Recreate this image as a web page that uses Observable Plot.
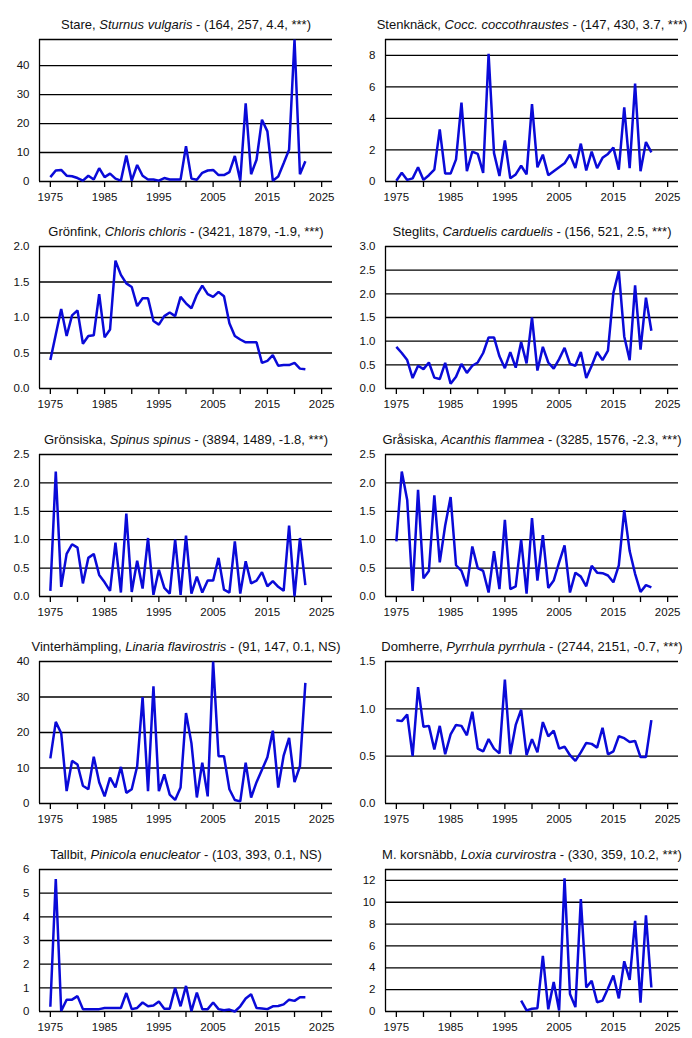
<!DOCTYPE html>
<html><head><meta charset="utf-8">
<script src="https://cdn.jsdelivr.net/npm/d3@7"></script>
<script src="https://cdn.jsdelivr.net/npm/@observablehq/plot@0.6"></script>
<style>
body{margin:0;background:#fff;}
#wrap{position:relative;width:692px;height:1038px;background:#fff;overflow:hidden;}
.panel{position:absolute;width:346px;}
.title{position:absolute;left:186px;top:17px;transform:translateX(-50%);text-align:center;font-family:"Liberation Sans",Arial,sans-serif;font-size:13px;color:#111;white-space:nowrap;line-height:16px;}
.panel svg{display:block;}
</style></head><body><div id="wrap"></div>
<script>
const years = [1975,1976,1977,1978,1979,1980,1981,1982,1983,1984,1985,1986,1987,1988,1989,1990,1991,1992,1993,1994,1995,1996,1997,1998,1999,2000,2001,2002,2003,2004,2005,2006,2007,2008,2009,2010,2011,2012,2013,2014,2015,2016,2017,2018,2019,2020,2021,2022];

const stare = [1.5,3.8,4,2,1.8,1.2,0.3,2,0.7,4.6, 1.5,2.7,1,0.3,9,0.3,5.7,2,0.7,0.7, 0.3,1.2,0.7,0.7,0.7,12.2,1,0.6,3,3.8, 4,2.2,2.2,3.2,8.8,0.3,27,2.5,7.5,21.3, 17.3,0.3,1.7,6.3,11,49,2.5,7];
const stenknack = [0.05,0.55,0.1,0.2,0.9,0.1,0.4,0.75,3.3,0.5, 0.5,1.4,5.0,0.65,1.9,1.75,0.55,8.1,1.8,0.35, 2.6,0.2,0.45,1.0,0.45,4.9,0.9,1.7,0.4,0.65, 0.9,1.15,1.7,0.85,2.4,0.7,1.9,0.85,1.5,1.75, 2.15,0.75,4.7,0.85,6.2,0.65,2.5,1.85];
const gronfink = [0.4,0.76,1.12,0.74,1.03,1.1,0.63,0.74,0.75,1.33, 0.72,0.83,1.8,1.6,1.48,1.43,1.16,1.27,1.27,0.95, 0.9,1.02,1.07,1.02,1.29,1.2,1.13,1.32,1.45,1.33, 1.29,1.36,1.3,0.92,0.74,0.69,0.65,0.65,0.65,0.36, 0.39,0.47,0.32,0.33,0.33,0.36,0.28,0.27];
const steglits = [0.88,0.75,0.6,0.22,0.48,0.41,0.55,0.23,0.2,0.54, 0.1,0.25,0.52,0.33,0.48,0.55,0.75,1.08,1.08,0.68, 0.43,0.77,0.44,0.98,0.53,1.5,0.38,0.88,0.55,0.42, 0.62,0.86,0.52,0.48,0.77,0.22,0.48,0.77,0.6,0.8, 2.02,2.48,1.1,0.6,2.18,0.82,1.92,1.22];
const gronsiska = [0.1,2.2,0.17,0.75,0.92,0.86,0.23,0.68,0.75,0.38, 0.25,0.1,0.95,0.07,1.46,0.08,0.63,0.14,1.03,0.03, 0.47,0.15,0.05,1.0,0.03,1.07,0.05,0.35,0.07,0.28, 0.28,0.68,0.12,0.07,0.97,0.05,0.62,0.23,0.28,0.43, 0.18,0.27,0.17,0.1,1.25,0.0,1.03,0.2];
const grasiska = [0.97,2.2,1.7,0.1,1.88,0.32,0.45,1.78,0.6,1.25, 1.75,0.55,0.45,0.18,0.88,0.5,0.45,0.07,0.8,0.13, 1.35,0.13,0.18,1.0,0.05,1.38,0.28,1.08,0.15,0.28, 0.6,0.9,0.07,0.42,0.35,0.18,0.54,0.42,0.41,0.37, 0.25,0.55,1.52,0.8,0.4,0.08,0.2,0.16];
const vinterhampling = [12.7,23,19.8,3.5,12,11,5,4,13.2,6, 2,7.3,4.5,10.3,3,4,10.5,30,3.5,33, 3.5,8.2,2.5,1,4.5,25.5,17,1.7,11.5,2, 40,13.3,13.3,4,1,0.6,11.5,1.7,6,9.5, 13,20.5,4.5,13.5,18.5,6,10.5,34];
const domherre = [0.88,0.87,0.94,0.5,1.23,0.81,0.82,0.57,0.82,0.52, 0.73,0.83,0.82,0.72,0.97,0.58,0.55,0.68,0.58,0.53, 1.31,0.52,0.83,0.99,0.51,0.68,0.54,0.86,0.71,0.77, 0.58,0.6,0.51,0.45,0.54,0.64,0.63,0.59,0.8,0.52, 0.55,0.71,0.69,0.65,0.66,0.49,0.49,0.88];
const tallbit = [0.2,5.6,0.02,0.5,0.5,0.65,0.1,0.1,0.1,0.1, 0.15,0.15,0.15,0.15,0.78,0.1,0.15,0.38,0.22,0.25, 0.42,0.12,0.12,1.0,0.22,1.08,0.02,0.8,0.1,0.1, 0.38,0.1,0.05,0.08,0.0,0.22,0.55,0.73,0.15,0.13, 0.1,0.22,0.23,0.3,0.5,0.45,0.6,0.6];
const korsnabb = [null,null,null,null,null,null,null,null,null,null, null,null,null,null,null,null,null,null,null,null, null,null,null,1.0,0.1,0.25,0.3,5.1,0.2,2.7, 0.1,12.2,1.6,0.4,10.3,2.2,2.8,0.85,1.0,2.1, 3.3,1.2,4.6,2.9,8.3,0.8,8.8,2.2];

const commonNames = ["Stare","Stenknäck","Grönfink","Steglits","Grönsiska","Gråsiska","Vinterhämpling","Domherre","Tallbit","M. korsnäbb"];
const latinNames = ["Sturnus vulgaris","Cocc. coccothraustes","Chloris chloris","Carduelis carduelis","Spinus spinus","Acanthis flammea","Linaria flavirostris","Pyrrhula pyrrhula","Pinicola enucleator","Loxia curvirostra"];
const statsText = ["(164, 257, 4.4, ***)","(147, 430, 3.7, ***)","(3421, 1879, -1.9, ***)","(156, 521, 2.5, ***)","(3894, 1489, -1.8, ***)","(3285, 1576, -2.3, ***)","(91, 147, 0.1, NS)","(2744, 2151, -0.7, ***)","(103, 393, 0.1, NS)","(330, 359, 10.2, ***)"];
const seriesList = [stare,stenknack,gronfink,steglits,gronsiska,grasiska,vinterhampling,domherre,tallbit,korsnabb];
const yMaxes = [49, 9, 2, 3, 2.5, 2.5, 40, 1.5, 6, 13];
const yTickLists = [[0,10,20,30,40],[0,2,4,6,8],[0,0.5,1,1.5,2],[0,0.5,1,1.5,2,2.5,3],[0,0.5,1,1.5,2,2.5],[0,0.5,1,1.5,2,2.5],[0,10,20,30,40],[0,0.5,1,1.5],[0,1,2,3,4,5,6],[0,2,4,6,8,10,12]];
const yDecimals = [0,0,1,1,1,1,0,1,0,0];
const xTicks = [1975,1980,1985,1990,1995,2000,2005,2010,2015,2020,2025];
const xLabels = [1975,1985,1995,2005,2015,2025];

const rowTops = [0,207,415,622,830];
const rowHeights = [207,208,207,208,208];
const lineColor = "#0a0ad8";
const wrap = document.getElementById("wrap");

seriesList.forEach((vals, i) => {
  const row = Math.floor(i/2), col = i % 2;
  const h = rowHeights[row];
  const data = years.map((yr, j) => ({year: yr, value: vals[j]}));
  const ymax = yMaxes[i];
  const yt = yTickLists[i];
  const grid = Array.from(new Set([...yt.filter(v => v > 0), ymax]));
  const dec = yDecimals[i];
  const chart = Plot.plot({
    width: 346, height: h,
    marginLeft: 39, marginRight: 14, marginTop: 39, marginBottom: h - 181,
    x: {domain: [1973, 2027]},
    y: {domain: [0, ymax]},
    style: {fontFamily: "'Liberation Sans', Arial, sans-serif", fontSize: "11.5px", color: "#111", background: "#fff", overflow: "visible"},
    marks: [
      Plot.ruleY(grid, {stroke: "#000", strokeWidth: 1.3}),
      Plot.ruleY([0], {stroke: "#000", strokeWidth: 1.3}),
      Plot.ruleX([1973], {y1: 0, y2: ymax, stroke: "#000", strokeWidth: 1.3}),
      Plot.axisX({ticks: xTicks, tickSize: 6, tickPadding: 5, label: null, stroke: "#000", strokeWidth: 1.3,
        tickFormat: d => xLabels.includes(d) ? String(d) : ""}),
      Plot.axisY({ticks: yt, tickSize: 0, tickPadding: 10, label: null,
        tickFormat: d => d.toFixed(dec)}),
      Plot.line(data, {x: "year", y: "value", stroke: lineColor, strokeWidth: 2.5, strokeLinejoin: "miter", strokeLinecap: "butt"})
    ]
  });
  const panel = document.createElement("div");
  panel.className = "panel";
  panel.style.left = (col * 346) + "px";
  panel.style.top = rowTops[row] + "px";
  panel.style.height = h + "px";
  panel.appendChild(chart);
  const t = document.createElement("div");
  t.className = "title";
  t.append(commonNames[i] + ", ");
  const em = document.createElement("i");
  em.textContent = latinNames[i];
  t.append(em);
  t.append(" - " + statsText[i]);
  panel.appendChild(t);
  wrap.appendChild(panel);
});
</script></body></html>
